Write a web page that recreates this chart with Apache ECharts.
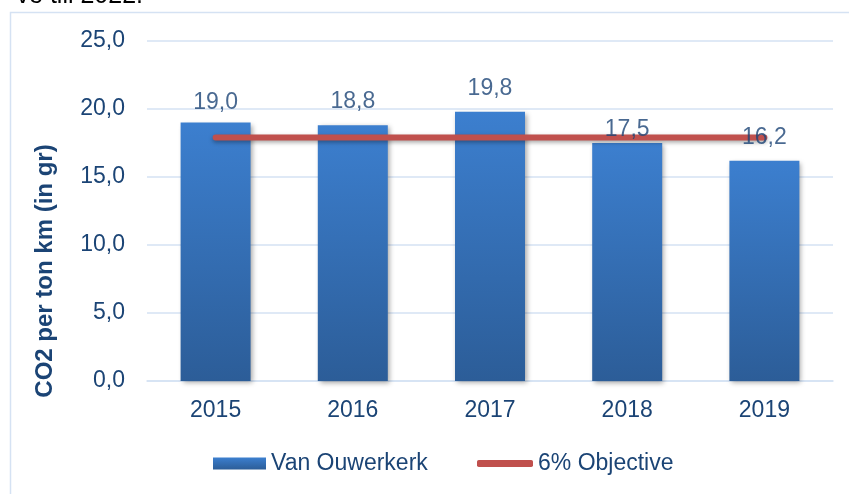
<!DOCTYPE html>
<html>
<head>
<meta charset="utf-8">
<style>
    html, body { margin: 0; padding: 0; background: #fff; }
    #chart-box { width: 849px; height: 494px; }
</style>
<script src="https://cdn.jsdelivr.net/npm/echarts@6/dist/echarts.min.js"></script>
</head>
<body>
<div id="chart-box"></div>
<script>
// data
var years = ['2015', '2016', '2017', '2018', '2019'];
var vanOuwerkerk = [19.0, 18.8, 19.8, 17.5, 16.2];
var objective = [17.9, 17.9, 17.9, 17.9, 17.9];
var yTicks = { min: 0, max: 25, interval: 5 };

var txtColor = '#1b4475';
var font = 'Liberation Sans, Arial, sans-serif';

function comma(v) {
    return Number(v).toFixed(1).replace('.', ',');
}

// Excel schuift sommige labels wat omlaag (pixels)
var labelShift = [4, 0, 0, 10, 0];

var chart = echarts.init(document.getElementById('chart-box'));

var option = {
    animation: false,
    textStyle: { fontFamily: font },
    grid: {
        left: 147,
        right: 16,
        top: 41,
        bottom: 113
    },
    graphic: [{
        type: 'rect',
        shape: { x: 10.5, y: 12.5, width: 900, height: 600 },
        style: { fill: 'none', stroke: '#d5e2f3', lineWidth: 1.5 },
        z: -10
    }, {
        type: 'text',
        x: 143,
        y: 9,
        style: {
            text: 've till 2022.',
            fontSize: 25,
            fontFamily: font,
            fill: '#000',
            align: 'right',
            verticalAlign: 'bottom'
        }
    }, {
        type: 'text',
        x: 45,
        y: 271,
        rotation: Math.PI / 2,
        style: {
            text: 'CO2 per ton km (in gr)',
            fontSize: 24,
            fontWeight: 'bold',
            fontFamily: font,
            fill: txtColor,
            align: 'center',
            verticalAlign: 'middle'
        }
    }],
    legend: [{
        data: ['Van Ouwerkerk'],
        left: 208,
        top: 447,
        icon: 'rect',
        itemWidth: 53,
        itemHeight: 12,
        textStyle: { color: txtColor, fontSize: 23, fontFamily: font }
    }, {
        data: ['6% Objective'],
        left: 472,
        top: 447,
        icon: 'roundRect',
        itemWidth: 56,
        itemHeight: 7,
        textStyle: { color: txtColor, fontSize: 23, fontFamily: font }
    }],
    xAxis: {
        type: 'category',
        data: years,
        axisLine: { lineStyle: { color: '#d5e2f3', width: 1.5 } },
        axisTick: { show: false },
        axisLabel: { color: txtColor, fontSize: 23, margin: 18 }
    },
    yAxis: {
        type: 'value',
        min: yTicks.min,
        max: yTicks.max,
        interval: yTicks.interval,
        axisLine: { show: false },
        axisTick: { show: false },
        axisLabel: {
            color: txtColor,
            fontSize: 23,
            margin: 22,
            formatter: comma
        },
        splitLine: { lineStyle: { color: '#d5e2f3', width: 1.5 } }
    },
    series: [{
        name: 'Van Ouwerkerk',
        type: 'bar',
        barWidth: 70,
        z: 2,
        itemStyle: {
            color: new echarts.graphic.LinearGradient(0, 0, 0, 1, [
                { offset: 0, color: '#3c7fcf' },
                { offset: 1, color: '#2c5d98' }
            ]),
            shadowColor: 'rgba(0,0,0,0.35)',
            shadowBlur: 5,
            shadowOffsetX: 2,
            shadowOffsetY: 2
        },
        data: vanOuwerkerk
    }, {
        name: '6% Objective',
        type: 'line',
        z: 3,
        symbol: 'none',
        itemStyle: { color: '#c0504d' },
        lineStyle: {
            color: '#c0504d',
            width: 6,
            cap: 'round',
            shadowColor: 'rgba(0,0,0,0.35)',
            shadowBlur: 4,
            shadowOffsetY: 2
        },
        data: objective
    }, {
        // labels boven alles
        name: 'labels',
        type: 'scatter',
        z: 5,
        silent: true,
        symbolSize: 0,
        label: {
            show: true,
            position: 'top',
            distance: 12,
            color: txtColor,
            fontSize: 23,
            formatter: function(p) { return comma(p.value); }
        },
        data: vanOuwerkerk.map(function(v, i) {
            return { value: v, label: { offset: [0, labelShift[i]] } };
        })
    }]
};

chart.setOption(option);
</script>
</body>
</html>
